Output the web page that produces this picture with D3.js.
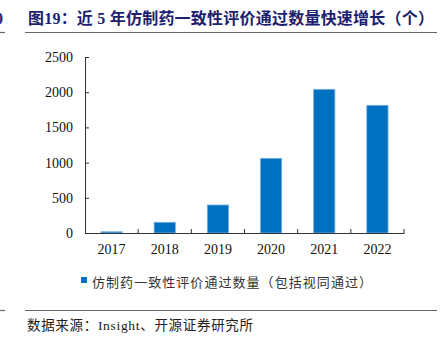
<!DOCTYPE html>
<html><head><meta charset="utf-8">
<script src="https://cdn.jsdelivr.net/npm/d3@7"></script>
<style>
html,body{margin:0;padding:0;background:#fff;}
svg{display:block;}
text{font-family:"Liberation Serif","Noto Sans CJK SC",serif;}
</style></head>
<body>
<svg id="c" width="443" height="337"></svg>
<script>
const categories = ["2017","2018","2019","2020","2021","2022"];
const values = [18, 152, 398, 1061, 2041, 1814];
const yTicks = [0, 500, 1000, 1500, 2000, 2500];
const titleText = "图19：近 5 年仿制药一致性评价通过数量快速增长（个）";
const legendText = "仿制药一致性评价通过数量（包括视同通过）";
const sourceText = "数据来源：Insight、开源证券研究所";

const svg = d3.select("#c");
const x = d3.scaleBand().domain(categories).range([85, 404]).padding(0);
const y = d3.scaleLinear().domain([0, 2500]).range([233, 57]);

// title
svg.append("text").attr("x", 28).attr("y", 24)
  .attr("font-size", 16).attr("font-weight", "bold").attr("fill", "#1c1f6e")
  .attr("textLength", 406).attr("lengthAdjust", "spacing")
  .text(titleText);
svg.append("text").attr("x", -5).attr("y", 24)
  .attr("font-size", 16).attr("font-weight", "bold").attr("fill", "#1c1f6e").text("0");
svg.append("line").attr("x1", 25).attr("x2", 437).attr("y1", 32.5).attr("y2", 32.5)
  .attr("stroke", "#666").attr("stroke-width", 1.2);
svg.append("line").attr("x1", 0).attr("x2", 5).attr("y1", 32.5).attr("y2", 32.5)
  .attr("stroke", "#666").attr("stroke-width", 1.2);

// bars
svg.append("g").selectAll("rect").data(values).join("rect")
  .attr("x", (d,i) => x(categories[i]) + x.bandwidth()*0.3)
  .attr("width", x.bandwidth()*0.4)
  .attr("y", d => y(d))
  .attr("height", d => y(0) - y(d))
  .attr("fill", "#0070c0")
  .attr("stroke", "#7fb2e0").attr("stroke-width", 0.8);

// y axis
const ya = svg.append("g").attr("transform", "translate(85,0)")
  .call(d3.axisLeft(y).tickValues(yTicks).tickFormat(d3.format("d"))
    .tickSize(-4).tickPadding(12).tickSizeOuter(0));
ya.select(".domain").attr("stroke", "#333");
ya.selectAll(".tick line").attr("stroke", "#333");
ya.selectAll("text").attr("font-size", 14).attr("fill", "#111")
  .attr("font-family", "'Liberation Serif',serif");

// x axis
const xa = svg.append("g").attr("transform", "translate(0,233)")
  .call(d3.axisBottom(x).tickSize(0).tickPadding(11).tickSizeOuter(0));
xa.select(".domain").attr("stroke", "#333").attr("stroke-width", 1.2);
xa.selectAll("text").attr("font-size", 14).attr("fill", "#111")
  .attr("font-family", "'Liberation Serif',serif");
// boundary ticks between bands
svg.append("g").selectAll("line").data(categories.slice(1).concat(["end"])).join("line")
  .attr("x1", (d,i) => i < categories.length-1 ? x(d) : x.range()[1])
  .attr("x2", (d,i) => i < categories.length-1 ? x(d) : x.range()[1])
  .attr("y1", 233).attr("y2", 229).attr("stroke", "#333");

// legend
svg.append("rect").attr("x", 81).attr("y", 277).attr("width", 6).attr("height", 6)
  .attr("fill", "#0070c0");
svg.append("text").attr("x", 92).attr("y", 286.5)
  .attr("font-size", 13).attr("fill", "#333")
  .attr("font-family", "'Noto Sans CJK SC',sans-serif")
  .attr("textLength", 280).attr("lengthAdjust", "spacing")
  .text(legendText);

// bottom rule & source
svg.append("line").attr("x1", 25).attr("x2", 437).attr("y1", 310.5).attr("y2", 310.5)
  .attr("stroke", "#666").attr("stroke-width", 1.2);
svg.append("line").attr("x1", 0).attr("x2", 5).attr("y1", 310.5).attr("y2", 310.5)
  .attr("stroke", "#666").attr("stroke-width", 1.2);
svg.append("text").attr("x", 27).attr("y", 330)
  .attr("font-size", 13.5).attr("fill", "#222")
  .attr("textLength", 226).attr("lengthAdjust", "spacing")
  .text(sourceText);
</script>
</body></html>
